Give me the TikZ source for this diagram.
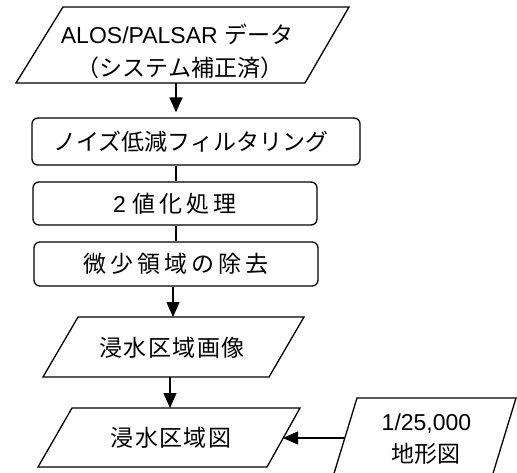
\documentclass[tikz,border=0pt]{standalone}
\usepackage{fontspec}
\setmainfont{Liberation Sans}
\newfontfamily\jp{Noto Sans CJK JP}
\usetikzlibrary{arrows.meta,calc}
\begin{document}
\begin{tikzpicture}[x=1pt,y=-1pt,
  stroke/.style={line width=1.3pt, line join=miter},
  lbl/.style={inner sep=0pt, font=\fontsize{23}{28}\selectfont, text height=19pt, text depth=1.6pt},
  procbox/.style={lbl, draw, line width=1.3pt, rounded corners=6pt},
  arr/.style={line width=1.3pt, -{Triangle[width=13pt,length=15pt]}},
  conn/.style={line width=1.3pt}]
\clip (0,0) rectangle (517,472);
\fill[white] (0,0) rectangle (517,472);

% parallelogram outlines
\draw[stroke] (63,7) -- (349,7) -- (305,83) -- (16,83) -- cycle;
\draw[stroke] (78,317) -- (304,317) -- (269,377) -- (43,377) -- cycle;
\draw[stroke] (72,408) -- (300,408) -- (267,467) -- (38,467) -- cycle;
\draw[stroke] (357,398) -- (516,398) -- (491,480) -- (332,480) -- cycle;

% labels of parallelograms
\node[lbl] (p1a) at (177,34.5) {ALOS/PALSAR {\jp データ}};
\node[lbl] (p1b) at (180,67.5) {\jp （システム補正済）};
\node[lbl] (p3) at (172,348) {\jp\addfontfeature{LetterSpace=6}浸水区域画像};
\node[lbl] (p4) at (171,438) {\jp\addfontfeature{LetterSpace=6}浸水区域図};
\node[lbl] (p5a) at (426.5,421.5) {1/25,000};
\node[lbl] (p5b) at (426,454) {\jp 地形図};

% process boxes
\node[procbox, minimum width=328pt, minimum height=47pt] (b2) at (196,141.5)
  {{\jp ノイズ低減フィルタリング}\kern10pt};
\node[procbox, minimum width=284pt, minimum height=43pt] (b3) at (175,203.5)
  {2 {\jp\addfontfeature{LetterSpace=18}値化処理}};
\node[procbox, minimum width=284pt, minimum height=44pt] (b4) at (176,264)
  {\jp\addfontfeature{LetterSpace=18}微少領域の除去};

% connector end points on parallelogram edges
\coordinate (p1s) at (176,83);
\coordinate (p3n) at (173,317);
\coordinate (p3s) at (170,377);
\coordinate (p4n) at (170,408);
\coordinate (p4e) at (283,438);
\coordinate (p5w) at (344,438);

% connectors
\draw[arr] (p1s) -- ($(b2.north -| p1s)+(0,-5)$);
\draw[conn] (b2.south -| p1s) -- (b3.north -| p1s);
\draw[conn] (b3.south -| p1s) -- (b4.north -| p1s);
\draw[arr] (b4.south -| p3n) -- (p3n);
\draw[arr] (p3s) -- (p4n);
\draw[arr] (p5w) -- (p4e);
\end{tikzpicture}
\end{document}
